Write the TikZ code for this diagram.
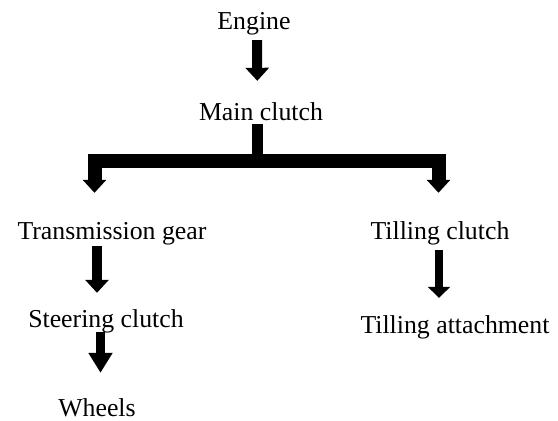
\documentclass[tikz,border=0pt]{standalone}
\usepackage{fontspec}
\setmainfont{Liberation Serif}
\usepackage{tikz}
\usetikzlibrary{arrows.meta,positioning}

\begin{document}
\begin{tikzpicture}[x=1pt, y=-1pt]
		\tikzstyle{Label}	= [anchor=base, inner sep=0pt, text height=17pt, text depth=6pt, font=\fontsize{25.8}{30}\selectfont]
		\tikzstyle{Block}	= [line width=10pt, -{Triangle[width=23pt,length=13pt]}]
		\tikzstyle{Fork}	= [line width=14pt, -{Triangle[width=23pt,length=13pt]}]

		\useasboundingbox (0, 0) rectangle (558, 421);

		\node (engine) at (254, 29) [Label] {Engine};
		\node (main) at (261, 120) [Label] {Main clutch};
		\node (trans) at (112, 239) [Label] {Transmission gear};
		\node (till) at (440, 239) [Label] {Tilling clutch};
		\node (steer) at (106, 327) [Label] {Steering clutch};
		\node (attach) at (455, 333) [Label] {Tilling attachment};
		\node (wheels) at (97, 416) [Label] {Wheels};
		\coordinate (split) at (257.5, 160.5);

		\draw [Block, shorten <=5pt, shorten >=22pt] ([xshift=3pt]engine.south) to ([xshift=-3.5pt]main.north);
		\draw [line width=11pt, shorten <=-2pt] ([xshift=-3.5pt]main.south) to (split);
		\draw [Fork, shorten >=29pt] (split) -| ([xshift=-17.5pt]trans.north);
		\draw [Fork, shorten >=29pt] (split) -| ([xshift=-1.5pt]till.north);
		\draw [Block, shorten <=1pt, shorten >=17pt] ([xshift=-15pt]trans.south) to ([xshift=-9pt]steer.north);
		\draw [Block, line width=9pt, -{Triangle[width=23pt,length=20pt]}, shorten <=-1pt, shorten >=26pt] ([xshift=-5.5pt]steer.south) to ([xshift=3.5pt]wheels.north);
		\draw [Block, line width=8.5pt, -{Triangle[width=22pt,length=11pt]}, shorten <=5pt, shorten >=18pt] ([xshift=-1pt]till.south) to ([xshift=-16pt]attach.north);
\end{tikzpicture}
\end{document}
